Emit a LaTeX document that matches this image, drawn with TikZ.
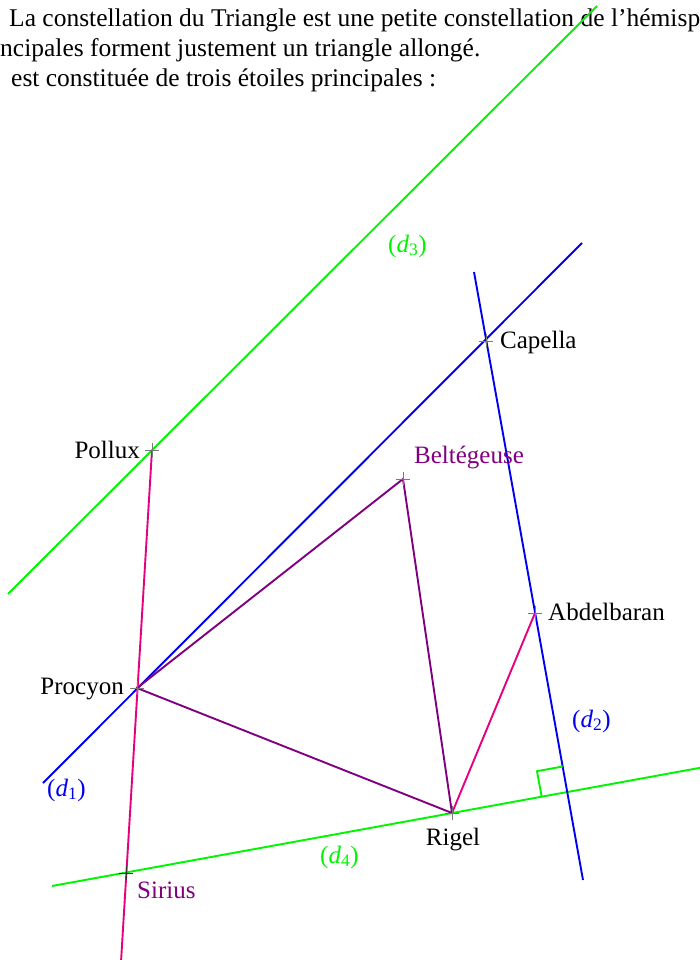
\documentclass[tikz,border=0pt]{standalone}
\usepackage{fontspec}
\setmainfont{Liberation Serif}
\usetikzlibrary{shapes.misc,calc}
\definecolor{dgreen}{RGB}{0,245,0}
\definecolor{dblue}{RGB}{0,0,240}
\definecolor{dmag}{RGB}{230,0,126}
\definecolor{dpurp}{RGB}{128,0,128}
\definecolor{dgray}{RGB}{120,120,120}
\begin{document}
\begin{tikzpicture}[x=1pt,y=-1pt,
  starpt/.style={cross out,draw=dgray,line width=0.9pt,rotate=45,minimum size=9pt,inner sep=0pt},
  lbl/.style={font=\fontsize{25}{30}\selectfont,inner sep=0pt},
  txt/.style={font=\fontsize{25.5}{30}\selectfont,inner sep=0pt,anchor=base west},
  gline/.style={dgreen,line width=1.9pt},
  bline/.style={dblue,line width=1.9pt},
  mline/.style={dmag,line width=1.9pt},
  pline/.style={dpurp,line width=1.9pt}]
\useasboundingbox (0,0) rectangle (699,960);
\fill[white] (0,0) rectangle (699,960);
% header text
\node[txt] (t1) at (9,27) {La constellation du Triangle est une petite constellation de l’hémisp};
\node[txt] (t2) at (0,57) {ncipales forment justement un triangle allongé.};
\node[txt] (t3) at (11,87) {est constituée de trois étoiles principales :};
% stars
\coordinate (pollux) at (152,450);
\coordinate (capella) at (486,341);
\coordinate (belt) at (403,479);
\coordinate (abdel) at (535,613);
\coordinate (procyon) at (137,688);
\coordinate (rigel) at (452,813);
\coordinate (sirius) at (126,873);
% line ends
\coordinate (d1a) at (43,783);
\coordinate (d1b) at (582,243);
\coordinate (d2a) at (474,272);
\coordinate (d2b) at (583,880);
\coordinate (d3a) at (8,594);
\coordinate (d3b) at (597,6);
\coordinate (d4a) at (52,886);
\coordinate (d4b) at (710,766);
\coordinate (ma) at (121,962);
\coordinate (I) at (intersection of d2a--d2b and d4a--d4b);
% lines
\draw[gline] (d3a) -- (d3b);
\draw[gline] (d4a) -- (d4b);
\draw[bline] (d1a) -- (d1b);
\draw[bline] (d2a) -- (d2b);
\draw[mline] (pollux) -- (ma);
\draw[mline] (rigel) -- (abdel);
\draw[pline] (procyon) -- (belt) -- (rigel) -- cycle;
% right angle
\draw[gline] ($(I)!26pt!(d4a)$) -- ($($(I)!26pt!(d4a)$)!26pt!90:(I)$) -- ($(I)!26pt!(d2a)$);
% star marks
\foreach \s in {pollux,capella,belt,abdel,procyon,rigel}
  \node[starpt] (m-\s) at (\s) {};
\node[starpt,draw=black!80] (m-sirius) at (sirius) {};
% labels
\node[lbl,anchor=base east] (lpollux) at (140,458) {Pollux};
\node[lbl,anchor=base west] (lcapella) at (500,348) {Capella};
\node[lbl,anchor=base west,text=dpurp] (lbelt) at (414,463) {Beltégeuse};
\node[lbl,anchor=base west] (labdel) at (548,620) {Abdelbaran};
\node[lbl,anchor=base east] (lprocyon) at (124,694) {Procyon};
\node[lbl,anchor=base] (lrigel) at (453,845) {Rigel};
\node[lbl,anchor=base west,text=dpurp] (lsirius) at (137,898) {Sirius};
\node[lbl,anchor=base west,text=dblue] (ld1) at (47,796) {(\textit{d}\textsubscript{1})};
\node[lbl,anchor=base west,text=dblue] (ld2) at (572,727) {(\textit{d}\textsubscript{2})};
\node[lbl,anchor=base west,text=dgreen] (ld3) at (388,252) {(\textit{d}\textsubscript{3})};
\node[lbl,anchor=base west,text=dgreen] (ld4) at (320,863) {(\textit{d}\textsubscript{4})};
\end{tikzpicture}
\end{document}
